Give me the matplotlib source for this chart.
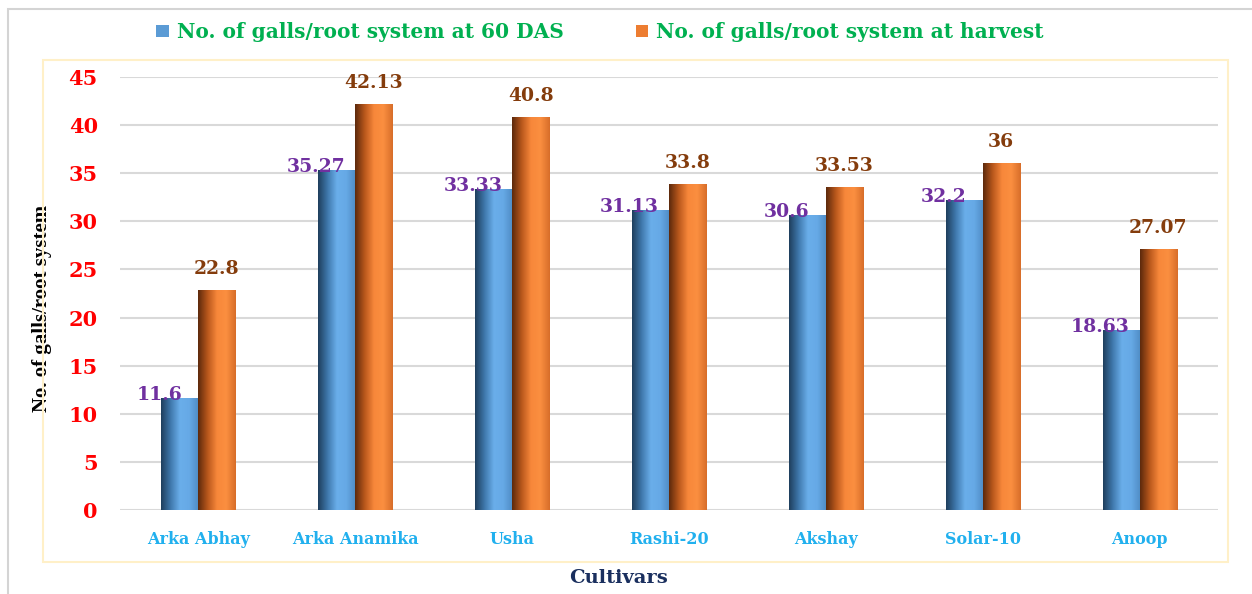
import matplotlib
matplotlib.use("Agg")
import matplotlib.pyplot as plt
import numpy as np
from matplotlib.colors import LinearSegmentedColormap
from matplotlib.patches import Rectangle

cultivars = ["Arka Abhay", "Arka Anamika", "Usha", "Rashi-20", "Akshay", "Solar-10", "Anoop"]
galls_60das = [11.6, 35.27, 33.33, 31.13, 30.6, 32.2, 18.63]
galls_harvest = [22.8, 42.13, 40.8, 33.8, 33.53, 36, 27.07]
lab_60das = ["11.6", "35.27", "33.33", "31.13", "30.6", "32.2", "18.63"]
lab_harvest = ["22.8", "42.13", "40.8", "33.8", "33.53", "36", "27.07"]

fig = plt.figure(figsize=(12.52, 5.94), dpi=100)
ax = fig.add_axes([120/1252, 1-510/594, 1098/1252, 433/594])

# borders (chart area + plot area)
fig.patches.append(Rectangle((8/1252, -0.1), 1.2, 1-9/594+0.1, transform=fig.transFigure,
                             fill=False, ec="#d4d4d4", lw=1.5, zorder=0))
fig.patches.append(Rectangle((43/1252, 1-562/594), (1228-43)/1252, (562-60)/594,
                             transform=fig.transFigure, fill=False, ec="#fff0c8", lw=1.5, zorder=0))

x = np.arange(len(cultivars))
w = 0.236
b1 = ax.bar(x - w/2, galls_60das, w, color="#5b9bd5", label="No. of galls/root system at 60 DAS", zorder=2)
b2 = ax.bar(x + w/2, galls_harvest, w, color="#ed7d31", label="No. of galls/root system at harvest", zorder=2)

ax.set_xlim(-0.5, 6.5)
ax.set_ylim(0, 45)
ax.set_autoscale_on(False)

blue_cm = LinearSegmentedColormap.from_list("b", ["#1f3f5e", "#3f78ac", "#6aaeea", "#66a9e6", "#4f8cc4"])
orng_cm = LinearSegmentedColormap.from_list("o", ["#5e2a0c", "#b8571c", "#f7873a", "#fb8f40", "#d86e2a"])
grad = np.linspace(0, 1, 64).reshape(1, -1)
for bars, cm in ((b1, blue_cm), (b2, orng_cm)):
    for r in bars:
        bx, by, bw, bh = r.get_x(), r.get_y(), r.get_width(), r.get_height()
        ax.imshow(grad, cmap=cm, extent=(bx, bx + bw, by, by + bh), aspect="auto", zorder=3)

for r, t in zip(b1, lab_60das):
    ax.annotate(t, (r.get_x() + r.get_width()/2, r.get_height()), xytext=(-15, -1),
                textcoords="offset points", ha="center", va="baseline",
                fontsize=13.5, fontweight="bold", color="#7030a0", family="DejaVu Serif", zorder=5)
for r, t in zip(b2, lab_harvest):
    ax.annotate(t, (r.get_x() + r.get_width()/2, r.get_height()), xytext=(0, 9),
                textcoords="offset points", ha="center", va="bottom",
                fontsize=13.5, fontweight="bold", color="#843c0c", family="DejaVu Serif", zorder=5)

ax.set_yticks(np.arange(0, 46, 5))
ax.set_xticks(x)
ax.set_xticklabels(cultivars, fontsize=11.5, fontweight="bold", color="#21b0ee", family="DejaVu Serif")
for lab in ax.get_yticklabels():
    lab.set_fontsize(15)
    lab.set_fontweight("bold")
    lab.set_color("#ff0000")
    lab.set_family("DejaVu Serif")
ax.tick_params(axis="both", length=0)
ax.tick_params(axis="x", pad=15)
ax.tick_params(axis="y", pad=16)
ax.yaxis.grid(True, color="#d9d9d9", lw=1.5, zorder=0)
ax.set_axisbelow(True)
for s in ax.spines.values():
    s.set_visible(False)

ax.set_ylabel("No. of galls/root system", fontsize=15, fontweight="bold",
              family="Liberation Serif", color="black")
ax.yaxis.set_label_coords((52-120)/1098, (510-308)/433)
ax.set_xlabel("Cultivars", fontsize=14, fontweight="bold", color="#1a2f5e", family="DejaVu Serif")
ax.xaxis.set_label_coords((618-120)/1098, (510-569)/433)

fig.legend(handles=[b1, b2], loc="center", bbox_to_anchor=(600/1252, 1-32/594), ncol=2,
           frameon=False, handlelength=0.6, handleheight=0.6, handletextpad=0.4,
           columnspacing=3.6, prop={"family": "DejaVu Serif", "weight": "bold", "size": 14.5},
           labelcolor="#00b050")

fig.savefig("out.png", dpi=100)
